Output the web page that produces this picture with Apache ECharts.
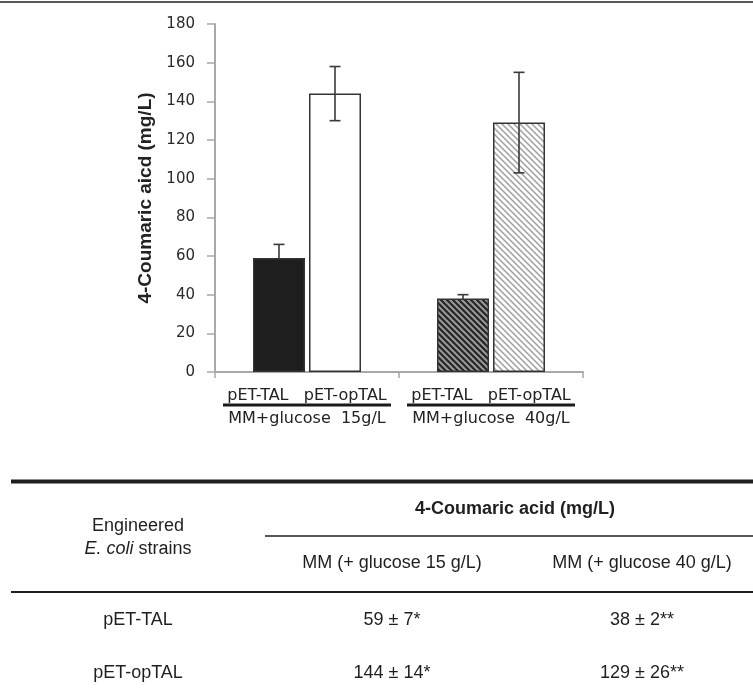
<!DOCTYPE html>
<html>
<head>
<meta charset="utf-8">
<script src="https://cdn.jsdelivr.net/npm/echarts@6/dist/echarts.min.js"></script>
<style>
html,body{margin:0;padding:0;background:#fff;}
#c{width:753px;height:694px;}
</style>
</head>
<body>
<div id="c"></div>
<script>
// ---- data ----
var conditions = ['MM+glucose  15g/L', 'MM+glucose  40g/L'];
var strains = ['pET-TAL', 'pET-opTAL'];
var talValues = [59, 38];
var talErrors = [7, 2];
var optalValues = [144, 129];
var optalErrors = [14, 26];
var yTicks = [0, 20, 40, 60, 80, 100, 120, 140, 160, 180];
var yAxisTitle = '4-Coumaric aicd (mg/L)';
var tableTitle = '4-Coumaric acid (mg/L)';
var tableColumns = ['MM (+ glucose 15 g/L)', 'MM (+ glucose 40 g/L)'];
var tableStars = ['*', '**'];
var tableRowHeader = ['Engineered', 'E. coli', ' strains'];

// ---- styles ----
var BAR_W = 52, GAP = 4;
function hatch(bg, fg, size, lw) {
  var c = document.createElement('canvas');
  c.width = size; c.height = size;
  var g = c.getContext('2d');
  g.fillStyle = bg; g.fillRect(0, 0, size, size);
  g.strokeStyle = fg; g.lineWidth = lw;
  g.beginPath();
  [-size, 0, size].forEach(function (k) {
    g.moveTo(-1, k - 1); g.lineTo(size + 1, size + k + 1);
  });
  g.stroke();
  return c;
}
var darkHatch = { image: hatch('#262626', '#9a9a9a', 6, 2), repeat: 'repeat' };
var lightHatch = { image: hatch('#ffffff', '#9f9f9f', 6, 1.5), repeat: 'repeat' };

var talColors = ['#1e1e1e', darkHatch];
var optalColors = ['#ffffff', lightHatch];

function errSeries(values, errors, side, z) {
  return {
    type: 'custom',
    z: z,
    silent: true,
    encode: { x: 0, y: 1 },
    data: values.map(function (v, i) { return [i, v, errors[i]]; }),
    renderItem: function (params, api) {
      var i = api.value(0), v = api.value(1), e = api.value(2);
      var top = api.coord([i, v + e]);
      var bot = api.coord([i, v - e]);
      var x = top[0] + side * (BAR_W / 2 + GAP / 2);
      var st = { stroke: '#3a3a3a', lineWidth: 1.6 };
      return {
        type: 'group',
        children: [
          { type: 'line', shape: { x1: x, y1: top[1], x2: x, y2: bot[1] }, style: st },
          { type: 'line', shape: { x1: x - 5.5, y1: top[1], x2: x + 5.5, y2: top[1] }, style: st },
          { type: 'line', shape: { x1: x - 5.5, y1: bot[1], x2: x + 5.5, y2: bot[1] }, style: st }
        ]
      };
    }
  };
}

var tFont = 'Liberation Sans, Arial, sans-serif';
var tColor = '#1f1f1f';
function tText(x, y, text, extra) {
  var s = { text: text, x: x, y: y, align: 'center', verticalAlign: 'middle',
            font: '18px ' + tFont, fill: tColor };
  if (extra) for (var k in extra) s[k] = extra[k];
  return { type: 'text', style: s, z: 20 };
}
function tLine(x1, x2, y, w) {
  return { type: 'line', shape: { x1: x1, y1: y, x2: x2, y2: y }, style: { stroke: '#1f1f1f', lineWidth: w }, z: 20 };
}

var colX = [392, 642];
var rowY = [620, 673.5];
var graphics = [
  tLine(0, 753, 2, 1.5),
  tLine(11, 753, 481.5, 4),
  tText(515, 509, tableTitle, { font: 'bold 18px ' + tFont }),
  tLine(265, 753, 536, 1.5),
  tText(138, 526.5, tableRowHeader[0]),
  {
    type: 'text', z: 20,
    style: {
      text: '{i|' + tableRowHeader[1] + '}{n|' + tableRowHeader[2] + '}',
      x: 138, y: 549, align: 'center', verticalAlign: 'middle',
      rich: {
        i: { fontFamily: tFont, fontSize: 18, fontStyle: 'italic', fill: tColor, color: tColor },
        n: { fontFamily: tFont, fontSize: 18, fill: tColor, color: tColor }
      }
    }
  },
  tText(colX[0], 563.5, tableColumns[0]),
  tText(colX[1], 563.5, tableColumns[1]),
  tLine(11, 753, 592, 2),
  tText(138, rowY[0], strains[0]),
  tText(138, rowY[1], strains[1])
];
[talValues, optalValues].forEach(function (vals, r) {
  var errs = r === 0 ? talErrors : optalErrors;
  vals.forEach(function (v, c) {
    graphics.push(tText(colX[c], rowY[r], v + ' \u00b1 ' + errs[c] + tableStars[c]));
  });
});

var chart = echarts.init(document.getElementById('c'), null, { renderer: 'canvas' });
chart.setOption({
  animation: false,
  backgroundColor: '#fff',
  grid: { left: 215, top: 24, width: 368, height: 348 },
  xAxis: {
    type: 'category',
    data: conditions,
    axisLine: { lineStyle: { color: '#a8a8a8', width: 2 } },
    axisTick: { show: true, length: 6, lineStyle: { color: '#a8a8a8', width: 1.5 } },
    axisLabel: {
      margin: 17,
      interval: 0,
      formatter: function (val) {
        return '{a|' + strains[0] + '   ' + strains[1] + '}\n{u|}\n{b|' + val + '}';
      },
      rich: {
        a: { fontFamily: 'DejaVu Sans', fontSize: 16, color: '#222', lineHeight: 14 },
        u: { width: 168, height: 3, backgroundColor: '#1a1a1a', lineHeight: 4 },
        b: { fontFamily: 'DejaVu Sans', fontSize: 16, color: '#222', lineHeight: 23 }
      }
    }
  },
  yAxis: {
    type: 'value',
    min: yTicks[0],
    max: yTicks[yTicks.length - 1],
    interval: yTicks[1] - yTicks[0],
    name: yAxisTitle,
    nameLocation: 'middle',
    nameRotate: 90,
    nameGap: 60,
    nameTextStyle: { fontFamily: 'Liberation Sans', fontWeight: 'bold', fontSize: 19, color: '#222' },
    axisLine: { show: true, lineStyle: { color: '#a8a8a8', width: 2 } },
    axisTick: { show: true, length: 8, lineStyle: { color: '#a8a8a8', width: 1.5 } },
    axisLabel: { margin: 20, fontFamily: 'DejaVu Sans', fontSize: 15, color: '#2a2a2a' },
    splitLine: { show: false }
  },
  series: [
    {
      type: 'bar', name: strains[0], barWidth: BAR_W, barGap: (GAP / BAR_W * 100) + '%', z: 3,
      data: talValues.map(function (v, i) {
        return { value: v, itemStyle: { color: talColors[i], borderColor: '#333', borderWidth: 1.5 } };
      })
    },
    {
      type: 'bar', name: strains[1], barWidth: BAR_W, z: 3,
      data: optalValues.map(function (v, i) {
        return { value: v, itemStyle: { color: optalColors[i], borderColor: '#333', borderWidth: 1.5 } };
      })
    },
    errSeries(talValues, talErrors, -1, 1),
    errSeries(optalValues, optalErrors, 1, 10)
  ],
  graphic: graphics
});
</script>
</body>
</html>
